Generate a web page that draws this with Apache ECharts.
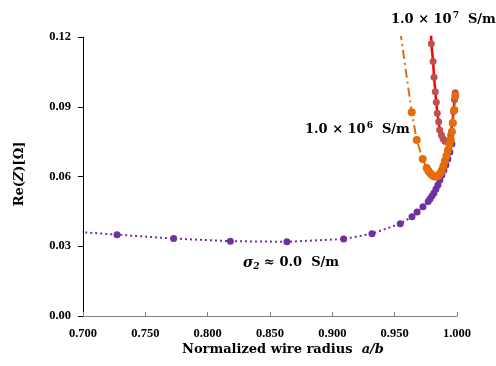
<!DOCTYPE html>
<html>
<head>
<meta charset="utf-8">
<script src="https://cdn.jsdelivr.net/npm/echarts@6/dist/echarts.min.js"></script>
<style>html,body{margin:0;padding:0;background:#fff}#c{width:496px;height:366px}</style>
</head>
<body>
<div id="c"></div>
<script>
// x tick labels / y tick labels
const xTicks = [0.70, 0.75, 0.80, 0.85, 0.90, 0.95, 1.00];
const yTicks = [0.00, 0.03, 0.06, 0.09, 0.12];

// sigma2 ≈ 0.0 S/m  (purple, dotted)
const purpleX = [0.6818, 0.7273, 0.7727, 0.8182, 0.8636, 0.9091, 0.9318, 0.9545, 0.9639, 0.9680, 0.9727,
  0.9769, 0.9783, 0.9799, 0.9815, 0.9831, 0.9847, 0.9863, 0.9879, 0.9895, 0.9911, 0.9927, 0.9943, 0.9959];
const purpleY = [0.0367, 0.0350, 0.0333, 0.0322, 0.0319, 0.0331, 0.0354, 0.0397, 0.0427, 0.0447, 0.0470,
  0.0492, 0.0503, 0.0516, 0.0529, 0.0546, 0.0563, 0.0585, 0.0606, 0.0628, 0.0649, 0.0675, 0.0705, 0.0740];

// 1.0e6 S/m (orange, dash-dot)
const orangeX = [0.9545, 0.9637, 0.9677, 0.9725, 0.9757, 0.9771, 0.9787, 0.9803, 0.9819, 0.9835, 0.9851,
  0.9867, 0.9879, 0.9891, 0.9903, 0.9915, 0.9927, 0.9939, 0.9951, 0.9959, 0.9967, 0.9978, 0.9986];
const orangeY = [0.1225, 0.0876, 0.0757, 0.0675, 0.0637, 0.0624, 0.0613, 0.0604, 0.0600, 0.0600, 0.0604,
  0.0615, 0.0628, 0.0645, 0.0667, 0.0688, 0.0712, 0.0735, 0.0757, 0.0793, 0.0830, 0.0886, 0.0946];

// 1.0e7 S/m (red, solid)
const redX = [0.9790, 0.9794, 0.9808, 0.9816, 0.9826, 0.9834, 0.9842, 0.9853, 0.9861, 0.9875, 0.9888,
  0.9903, 0.9920, 0.9936, 0.9950, 0.9962, 0.9972, 0.9980, 0.9986];
const redY = [0.1255, 0.1171, 0.1095, 0.1027, 0.0965, 0.0919, 0.0872, 0.0836, 0.0800, 0.0778, 0.0762,
  0.0752, 0.0750, 0.0757, 0.0780, 0.0830, 0.0880, 0.0930, 0.0960];

const zip = (xs, ys) => xs.map((x, i) => [x, ys[i]]);

const serif = '"Liberation Serif", "DejaVu Serif", serif';
const wide = '"DejaVu Serif", "Liberation Serif", serif';
const supRich = {
  n: {fontFamily: wide, fontWeight: 'bold', fontSize: 13, fill: '#000'},
  s: {fontFamily: wide, fontWeight: 'bold', fontSize: 9, fill: '#000', verticalAlign: 'top', padding: [0, 0, 8, 1]}
};
const chart = echarts.init(document.getElementById('c'), null, {renderer: 'canvas'});
chart.setOption({
  animation: false,
  backgroundColor: '#fff',
  grid: {left: 83, right: 39, top: 37, bottom: 50},
  xAxis: {
    type: 'value', min: xTicks[0], max: xTicks[xTicks.length - 1], interval: 0.05,
    axisLine: {lineStyle: {color: '#7f7f7f', width: 1}},
    axisTick: {inside: true, length: 4, lineStyle: {color: '#7f7f7f'}},
    splitLine: {show: false},
    axisLabel: {formatter: v => v.toFixed(3), fontFamily: serif, fontWeight: 'bold', fontSize: 12.5, color: '#000', margin: 11}
  },
  yAxis: {
    type: 'value', min: yTicks[0], max: yTicks[yTicks.length - 1], interval: 0.03,
    axisLine: {show: true, lineStyle: {color: '#000', width: 1}},
    axisTick: {show: true, inside: false, length: 5, lineStyle: {color: '#000'}},
    splitLine: {show: false},
    axisLabel: {formatter: v => v.toFixed(2), fontFamily: serif, fontWeight: 'bold', fontSize: 12.5, color: '#000', margin: 12}
  },
  series: [
    {
      type: 'line', data: zip(purpleX, purpleY), clip: true,
      symbol: 'circle', symbolSize: 7, showAllSymbol: true,
      lineStyle: {color: '#7030A0', width: 2, type: [2, 3]},
      itemStyle: {color: '#7030A0'}
    },
    {
      type: 'line', data: zip(redX, redY), clip: true,
      symbol: 'circle', symbolSize: 7, showAllSymbol: true,
      lineStyle: {color: '#FF0000', width: 2.5},
      itemStyle: {color: '#C0504D'}
    },
    {
      type: 'line', data: zip(orangeX, orangeY), clip: true,
      symbol: 'circle', symbolSize: 8, showAllSymbol: true,
      lineStyle: {color: '#E46C0A', width: 2, type: [9, 4, 2, 4]},
      itemStyle: {color: '#E46C0A'}
    }
  ],
  graphic: [
    {
      type: 'text', left: 391, top: 11,
      style: {text: '{n|1.0 × 10}{s|7}{n|  S/m}', rich: supRich}
    },
    {
      type: 'text', left: 305, top: 121,
      style: {text: '{n|1.0 × 10}{s|6}{n|  S/m}', rich: supRich}
    },
    {
      type: 'text', left: 243, top: 256,
      style: {
        text: '{i|σ}{b|2}{n| ≈ 0.0  S/m}',
        rich: {
          i: {fontFamily: wide, fontWeight: 'bold', fontStyle: 'italic', fontSize: 14, fill: '#000'},
          b: {fontFamily: wide, fontWeight: 'bold', fontStyle: 'italic', fontSize: 9, fill: '#000', padding: [8, 0, 0, 0]},
          n: {fontFamily: wide, fontWeight: 'bold', fontSize: 13, fill: '#000'}
        }
      }
    },
    {
      type: 'text', left: 182, top: 343,
      style: {
        text: '{n|Normalized wire radius  }{i|a/b}',
        rich: {
          n: {fontFamily: wide, fontWeight: 'bold', fontSize: 13, fill: '#000'},
          i: {fontFamily: wide, fontWeight: 'bold', fontStyle: 'italic', fontSize: 13, fill: '#000'}
        }
      }
    },
    {
      type: 'text', x: 20, y: 174, rotation: Math.PI / 2,
      style: {
        text: '{n|Re(}{i|Z}{n|)[Ω]}',
        align: 'center', verticalAlign: 'middle',
        rich: {
          n: {fontFamily: wide, fontWeight: 'bold', fontSize: 13, fill: '#000'},
          i: {fontFamily: wide, fontWeight: 'bold', fontStyle: 'italic', fontSize: 13, fill: '#000'}
        }
      }
    }
  ]
});
</script>
</body>
</html>
